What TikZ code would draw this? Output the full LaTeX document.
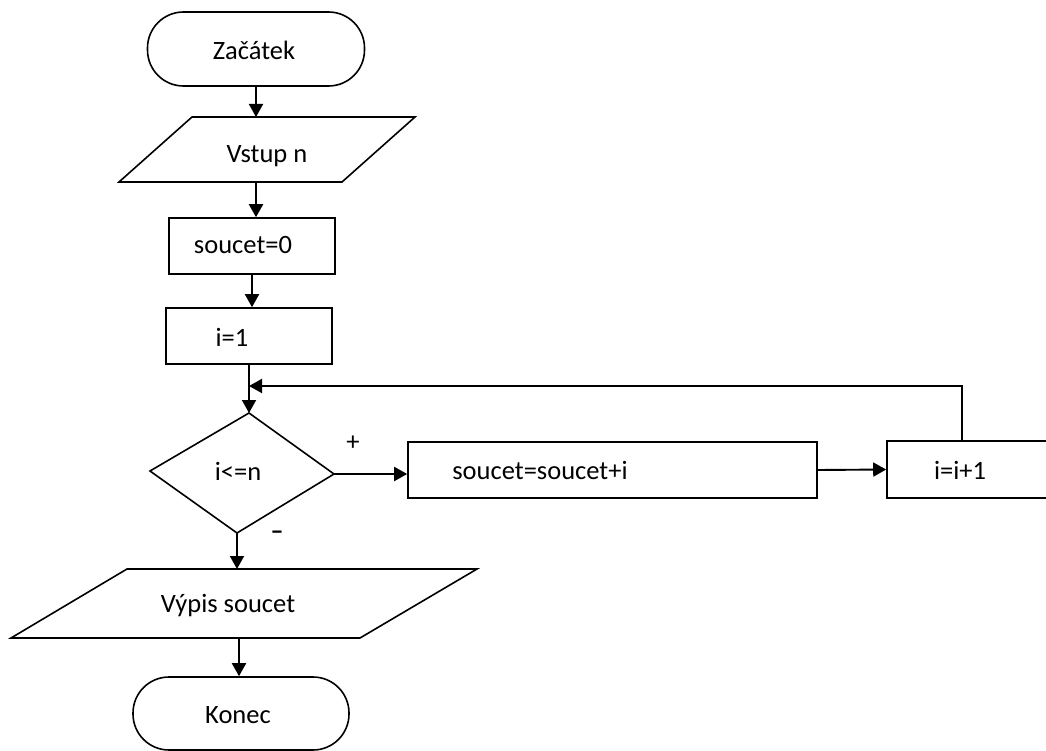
\documentclass[tikz,border=0pt]{standalone}
\usepackage{fontspec}
\setmainfont{Carlito}
\usetikzlibrary{arrows.meta}
\begin{document}
\begin{tikzpicture}[x=1pt,y=-1pt,
  shp/.style={draw, line width=1.6pt},
  box/.style={shp, rectangle, inner sep=0pt},
  term/.style={shp, rectangle, rounded corners=36pt, inner sep=0pt},
  txt/.style={font=\fontsize{26.5}{30}\selectfont, inner sep=0pt},
  conn/.style={line width=1.9pt, -{Triangle[length=13pt,width=14pt]}}]
\useasboundingbox (0,0) rectangle (1046,751);
\clip (0,0) rectangle (1046,751);

% start
\node[term, minimum width=217pt, minimum height=74pt] (start) at (256,49) {};
\node[txt] (tstart) at (254,50) {Začátek};

% input parallelogram
\coordinate (inTL) at (192,117);
\coordinate (inTR) at (415,117);
\coordinate (inBR) at (342,182);
\coordinate (inBL) at (119,182);
\coordinate (inTop) at (256,117);
\coordinate (inBot) at (256,182);
\draw[shp, line join=miter] (inTL) -- (inTR) -- (inBR) -- (inBL) -- cycle;
\node[txt] (tin) at (267,156) {Vstup n};

% soucet=0
\node[box, minimum width=166pt, minimum height=56pt] (s0) at (252,246) {};
\node[txt] (ts0) at (243,245) {soucet=0};

% i=1
\node[box, minimum width=166pt, minimum height=56pt] (i1) at (249,336) {};
\node[txt] (ti1) at (232,337) {i=1};

% decision
\coordinate (dT) at (249,413);
\coordinate (dL) at (150,471);
\coordinate (dR) at (334,474);
\coordinate (dB) at (237,533);
\draw[shp, line join=miter] (dT) -- (dR) -- (dB) -- (dL) -- cycle;
\node[txt] (tdec) at (238,471) {i<=n};
\node[txt] (plus) at (353,443) {+};
\node[txt, font=\fontsize{26}{30}\selectfont\bfseries] (minus) at (277,535) {–};

% body
\node[box, minimum width=409pt, minimum height=56pt] (body) at (612.5,470) {};
\node[txt] (tbody) at (540,470) {soucet=soucet+i};

% increment
\node[box, minimum width=166pt, minimum height=57pt] (inc) at (970,469.5) {};
\node[txt] (tinc) at (960,470) {i=i+1};
\coordinate (incUp) at (962,441);
\coordinate (merge) at (249,386);

% output parallelogram
\coordinate (oTL) at (127,569);
\coordinate (oTR) at (477,569);
\coordinate (oBR) at (360,638);
\coordinate (oBL) at (11,638);
\coordinate (oTop) at (237,569);
\coordinate (oBot) at (239,638);
\draw[shp, line join=miter] (oTL) -- (oTR) -- (oBR) -- (oBL) -- cycle;
\node[txt] (tout) at (228,606) {Výpis soucet};

% end
\node[term, minimum width=216pt, minimum height=73pt] (stop) at (241,713.5) {};
\node[txt] (tstop) at (238,715) {Konec};

% connectors
\draw[conn] (start.south) -- (inTop);
\draw[conn] (inBot) -- (inBot |- s0.north);
\draw[conn] (s0.south) -- (s0.south |- i1.north);
\draw[conn] (i1.south) -- (dT);
\draw[conn] (incUp) |- (merge);
\draw[conn] (dR) -- (dR -| body.west);
\draw[conn] (body.east) -- (inc.west);
\draw[conn] (dB) -- (oTop);
\draw[conn] (oBot) -- (oBot |- stop.north);
\end{tikzpicture}
\end{document}
